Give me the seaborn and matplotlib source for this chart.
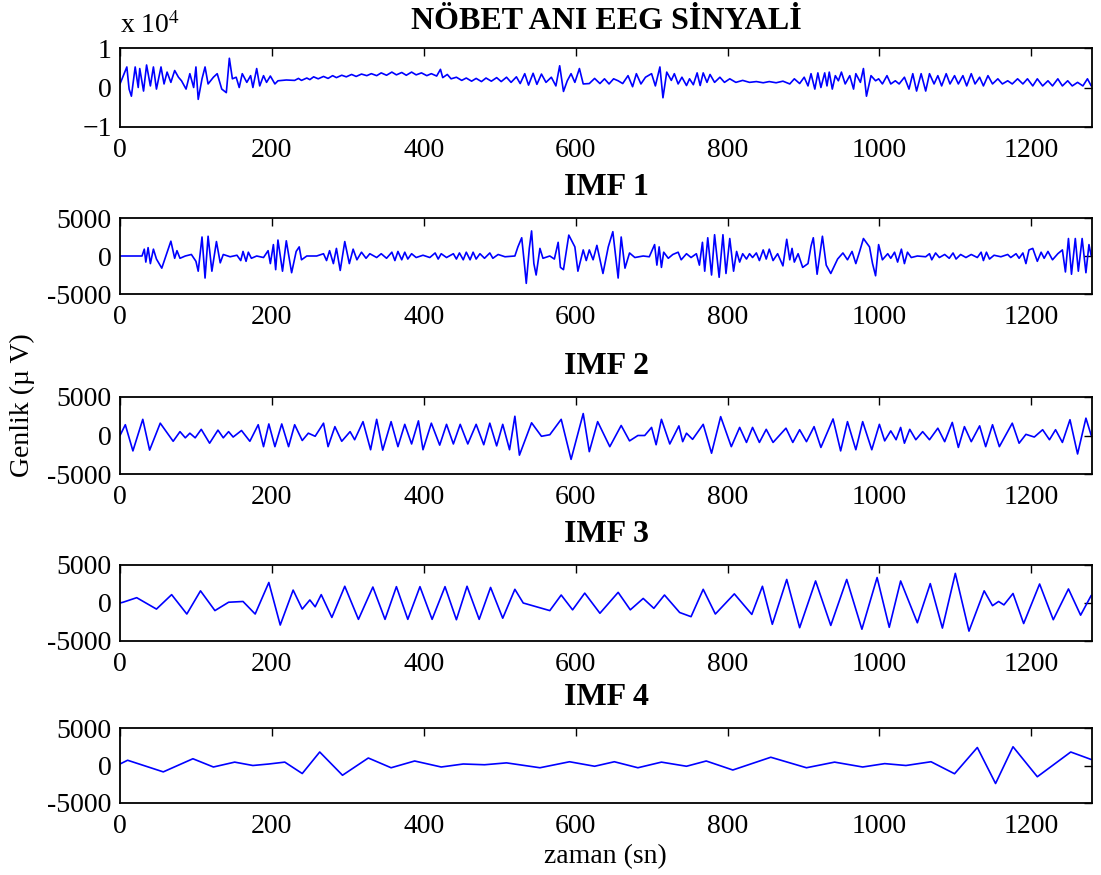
import matplotlib
matplotlib.use("Agg")
import matplotlib.pyplot as plt
import seaborn as sns
import pandas as pd

# ---------------- data ----------------
# raw EEG, values in thousands of µV
eeg_t = [0, 9, 12, 15, 20, 24, 26, 31, 35, 40, 44, 48, 54, 58, 62, 67, 72, 77, 81, 87,
         92, 97, 100, 103, 108, 112, 116, 123, 128, 134, 140, 144, 148, 153, 157, 161, 167, 172, 175, 180,
         184, 189, 193, 198, 204, 208, 219, 230, 235, 239, 246, 250, 255, 261, 268, 274, 280, 285, 292, 298,
         305, 311, 318, 325, 331, 338, 344, 351, 358, 364, 371, 377, 384, 390, 397, 404, 410, 417, 422, 425,
         431, 436, 443, 450, 456, 463, 469, 476, 482, 489, 496, 502, 509, 515, 522, 527, 533, 538, 544, 549,
         555, 561, 568, 574, 579, 584, 589, 594, 599, 605, 610, 618, 625, 632, 638, 644, 650, 656, 662, 669,
         675, 680, 686, 692, 700, 705, 711, 715, 720, 726, 730, 735, 740, 746, 750, 755, 760, 764, 768, 773,
         777, 783, 790, 796, 803, 811, 820, 829, 838, 847, 855, 864, 873, 882, 888, 895, 901, 906, 910, 915,
         919, 923, 928, 931, 934, 938, 942, 946, 950, 955, 961, 966, 969, 975, 979, 983, 989, 995, 999, 1004,
         1010, 1015, 1021, 1026, 1033, 1039, 1044, 1049, 1055, 1061, 1066, 1072, 1077, 1082, 1088, 1093, 1099, 1104, 1110, 1115,
         1121, 1126, 1132, 1137, 1143, 1149, 1156, 1162, 1169, 1175, 1182, 1189, 1195, 1202, 1208, 1215, 1222, 1228, 1235, 1241,
         1248, 1254, 1261, 1268, 1274, 1279]
eeg_k = [0.9, 5.2, -0.4, -2.2, 5.2, 0, 4.8, -0.9, 5.7, 0.4, 5.2, -0.4, 5.2, 0.9, 3.9, 1.3, 4.3, 2.6, 1.7, -0.4,
         3.5, 0, 5.2, -3.0, 2.2, 5.2, 0.9, 2.6, 3.5, -0.4, -1.3, 7.4, 2.2, 2.6, 0, 3.5, 1.3, 3.0, 0, 4.8,
         0.4, 3.0, 1.3, 2.9, 0.9, 1.7, 1.9, 1.8, 2.3, 1.8, 2.4, 2.0, 2.7, 2.2, 2.8, 2.3, 3.0, 2.5, 3.1, 2.7,
         3.3, 2.8, 3.4, 3.0, 3.5, 3.0, 3.7, 3.1, 3.9, 3.2, 3.8, 3.1, 3.9, 3.2, 3.7, 3.0, 3.5, 2.9, 4.6, 2.5,
         3.3, 2.2, 2.6, 1.8, 2.4, 1.6, 2.3, 1.5, 2.4, 1.6, 2.5, 1.5, 2.6, 1.3, 2.7, 1.0, 3.5, 0.6, 3.6, 0.8,
         3.4, 1.3, 2.6, 0.4, 5.5, -1.0, 1.7, 3.5, 1.3, 4.8, 0.9, 1.0, 2.3, 1.0, 2.2, 0.9, 2.2, 1.7, 1.0, 3.0,
         0.2, 3.5, 0.9, 2.6, 3.5, 0.4, 5.2, -2.6, 3.9, 1.8, 3.5, 0.9, 2.6, 0.5, 2.2, 0.7, 3.7, 0.5, 3.7, 1.3,
         3.3, 1.3, 2.6, 1.3, 2.2, 1.3, 1.8, 1.3, 1.5, 1.2, 1.5, 1.2, 1.6, 0.9, 2.2, 1.0, 2.6, 0.4, 3.5, -0.4,
         3.7, 0, 3.7, 0.4, 3.9, -0.4, 3.0, 1.7, 3.9, 0.9, 3.0, -0.4, 3.5, 1.3, 4.8, -2.2, 3.0, 1.7, 2.2, 0.9,
         3.0, 0.9, 1.7, 0.9, 2.6, -0.4, 3.5, -0.9, 3.5, -0.9, 3.5, 0.9, 3.0, 0.4, 3.5, 0.9, 3.0, 0.9, 3.0, 0.4,
         3.5, 0.9, 2.6, 0.4, 3.0, 0.9, 2.2, 0.9, 1.7, 0.9, 2.2, 0.9, 2.2, 0.4, 2.2, 0.4, 1.7, 0.4, 2.2, 0.4,
         1.7, 0.4, 1.3, 0.4, 2.2, 0.4]

# IMF 1, values in thousands of µV
imf1_t = [0, 26, 29, 32, 34, 37, 40, 44, 48, 55, 67, 72, 75, 79, 86, 94, 100, 103, 108, 112,
          116, 121, 127, 132, 136, 145, 154, 159, 162, 166, 169, 173, 180, 189, 195, 198, 202, 205, 208, 214,
          219, 226, 232, 236, 239, 246, 259, 268, 272, 276, 281, 285, 290, 296, 302, 307, 312, 318, 324, 329,
          338, 344, 351, 358, 362, 366, 371, 375, 379, 384, 390, 399, 408, 415, 419, 423, 430, 439, 443, 447,
          452, 456, 461, 465, 469, 474, 480, 487, 491, 498, 507, 520, 524, 529, 533, 535, 539, 542, 545, 548,
          553, 557, 566, 572, 577, 580, 584, 591, 599, 603, 610, 614, 618, 623, 628, 636, 643, 649, 656, 660,
          665, 671, 678, 689, 697, 704, 707, 710, 713, 716, 722, 728, 735, 739, 746, 752, 759, 763, 767, 770,
          774, 779, 783, 789, 794, 798, 803, 808, 812, 816, 820, 825, 829, 833, 838, 842, 847, 851, 855, 860,
          866, 873, 878, 882, 885, 888, 893, 899, 906, 910, 913, 918, 925, 930, 936, 945, 952, 958, 964, 969,
          974, 979, 987, 991, 995, 999, 1004, 1011, 1015, 1020, 1024, 1029, 1033, 1037, 1042, 1050, 1061, 1066, 1069, 1074,
          1079, 1086, 1092, 1097, 1101, 1107, 1114, 1121, 1129, 1134, 1137, 1141, 1145, 1151, 1160, 1169, 1173, 1180, 1184, 1189,
          1193, 1197, 1202, 1208, 1213, 1217, 1222, 1228, 1235, 1241, 1245, 1249, 1253, 1258, 1262, 1267, 1272, 1276, 1279]
imf1_k = [0, 0, 0, 0.9, -0.8, 1.1, -1.0, 0.9, -0.4, -1.6, 1.95, -0.3, 0.7, -0.3, 0, 0.2, -0.7, -2.0, 2.5, -2.9,
          2.6, -2.0, 1.9, -0.9, 0.2, -0.1, 0.1, -0.6, 0.6, -0.7, 0.5, -0.3, 0, -0.2, 0.7, -1.0, 1.5, -1.8, 2.1, -2.0,
          2.0, -2.2, 0.6, 1.2, -0.5, 0, 0, 0.3, -0.6, 0.7, -1.0, 1.0, -1.9, 1.9, -1.0, 0.9, -0.5, 0.5, -0.3, 0.3,
          -0.2, 0.3, -0.3, 0.5, -0.6, 0.6, -0.5, 0.5, -0.4, 0.3, -0.2, 0.1, -0.2, 0.4, -0.4, 0.3, -0.2, 0.3, -0.4, 0.4,
          -0.5, 0.5, -0.5, 0.5, -0.4, 0.3, -0.3, 0.4, -0.3, 0.2, -0.1, 0, 1.2, 2.4, -1.5, -3.6, 1.0, 3.3, -1.0, -2.5,
          1.0, -0.3, 0, -0.4, 1.8, -1.5, -1.8, 2.75, 1.2, -2.0, 0.8, -0.6, 0.8, -0.5, 1.4, -2.3, 1.2, 3.2, -2.9, 2.5,
          -1.6, 0.4, -0.2, 0, -0.1, 1.5, -1.2, 1.2, -1.5, 0.5, -0.3, 0.2, 0.5, -0.5, 0.3, -0.2, 0.3, -1.2, 1.8, -2.0,
          2.4, -2.5, 2.8, -2.8, 2.8, -2.3, 2.3, -2.0, 0.6, -0.8, 0.3, -0.4, 0.3, -0.2, 0.4, -0.6, 0.8, -0.4, 0.9, -0.6,
          0.3, -1.3, 2.2, -0.5, 1.0, -0.8, 0.3, -1.5, -1.0, 1.3, 2.4, -2.4, 2.6, -1.2, -2.3, -0.4, 0.4, -0.5, 0.6, -1.0,
          0.6, 2.3, 1.2, -1.0, -2.6, 1.5, -0.5, 0.3, -0.3, 0.5, -0.8, 0.9, -1.0, 0.5, -0.2, 0, -0.1, 0.3, -0.5, 0.4,
          -0.2, 0.2, -0.3, 0.4, -0.4, 0.2, -0.2, 0.2, -0.2, 0.5, -0.6, 0.5, -0.4, 0.1, -0.1, 0.2, -0.2, 0.3, -0.3, 0.4,
          -1.0, 0.8, 1.0, -0.7, 0.5, -0.3, 0.6, -0.5, 0.3, 0.8, -2.1, 2.3, -2.4, 2.3, -2.0, 2.3, -2.2, 1.5, 0]

# IMF 2, values in thousands of µV
imf2_t = [0, 7, 17, 30, 39, 53, 70, 79, 86, 92, 99, 107, 118, 129, 136, 143, 149, 160, 171, 182,
          189, 196, 204, 213, 222, 230, 240, 248, 257, 268, 274, 283, 292, 303, 309, 320, 330, 338, 346, 357,
          366, 375, 384, 393, 399, 410, 421, 430, 439, 448, 458, 469, 479, 487, 496, 504, 513, 520, 526, 542,
          555, 566, 581, 594, 610, 618, 629, 645, 660, 671, 682, 691, 700, 706, 713, 724, 736, 741, 746, 754,
          768, 779, 791, 805, 816, 825, 833, 842, 851, 860, 877, 886, 895, 904, 914, 923, 939, 949, 958, 969,
          978, 990, 1000, 1007, 1015, 1022, 1028, 1033, 1040, 1048, 1057, 1066, 1077, 1086, 1096, 1104, 1112, 1121, 1132, 1140,
          1149, 1158, 1175, 1184, 1193, 1204, 1215, 1224, 1232, 1241, 1251, 1261, 1272, 1279]
imf2_k = [0, 1.4, -2.0, 2.1, -1.9, 1.6, -0.75, 0.5, -0.3, 0.3, -0.3, 0.8, -1.0, 0.7, -0.3, 0.5, -0.2, 0.65, -0.75, 1.4,
          -1.45, 1.5, -1.45, 1.5, -1.45, 1.4, -0.65, 0.3, -0.1, 1.6, -1.45, 1.15, -0.75, 0.5, -0.55, 1.8, -1.85, 2.1, -1.9, 1.8,
          -1.45, 1.45, -1.1, 1.9, -1.85, 1.6, -1.25, 1.45, -1.1, 1.45, -1.1, 1.45, -1.2, 1.6, -1.35, 1.45, -1.85, 2.5, -2.55, 1.65,
          -0.1, 0.1, 2.1, -3.1, 2.85, -2.1, 1.8, -1.45, 1.3, -0.7, 0, 0, 1.05, -1.2, 2.1, -1.1, 1.25, -0.8, 0.3, -0.5,
          1.45, -2.3, 2.45, -1.45, 1.05, -0.9, 1.05, -0.9, 0.8, -0.9, 0.95, -0.9, 0.75, -0.8, 1.15, -1.55, 2.15, -2.0, 1.8, -1.85,
          1.8, -1.85, 1.45, -0.7, 0.6, -0.55, 1.05, -1.0, 0.8, -0.55, 0.5, -0.55, 0.95, -0.8, 1.7, -1.55, 1.15, -0.8, 1.25, -1.45,
          1.4, -1.45, 1.6, -1.0, 0.15, -0.2, 0.75, -0.55, 0.75, -0.9, 2.05, -2.4, 2.25, 0]

# IMF 3, values in thousands of µV
imf3_t = [0, 4, 22, 48, 68, 88, 106, 125, 143, 162, 178, 196, 211, 228, 240, 250, 257, 265, 279, 296,
          314, 333, 349, 364, 379, 395, 411, 428, 443, 457, 473, 488, 504, 520, 531, 566, 581, 596, 612, 632,
          656, 672, 689, 703, 717, 737, 752, 768, 784, 809, 832, 846, 859, 878, 895, 916, 936, 957, 977, 997,
          1013, 1028, 1050, 1067, 1083, 1100, 1118, 1138, 1149, 1157, 1164, 1176, 1190, 1211, 1229, 1249, 1265, 1279]
imf3_k = [0, 0.1, 0.7, -0.8, 1.1, -1.45, 1.6, -1.0, 0.1, 0.2, -1.45, 2.7, -2.9, 1.7, -0.8, 0.4, -0.5, 1.1, -1.9, 2.2,
          -2.15, 2.1, -2.15, 2.15, -2.15, 2.15, -2.15, 2.15, -2.2, 2.2, -2.15, 2.05, -2.0, 1.8, 0, -1.0, 1.05, -0.9, 1.3, -1.35,
          1.4, -0.9, 0.6, -0.7, 1.05, -1.25, -1.8, 1.8, -1.45, 1.2, -1.5, 2.2, -2.8, 3.1, -3.25, 2.9, -2.95, 3.1, -3.45, 3.35,
          -3.2, 2.9, -2.6, 2.55, -3.3, 3.9, -3.7, 1.6, -0.35, 0.2, -0.25, 1.25, -2.7, 2.5, -2.2, 1.85, -1.6, 1.0]

# IMF 4, values in thousands of µV
imf4_t = [0, 10, 57, 96, 123, 151, 175, 196, 217, 240, 263, 293, 327, 357, 388, 423, 452, 480, 509, 553,
          592, 625, 651, 682, 713, 746, 772, 807, 857, 904, 941, 978, 1007, 1035, 1068, 1099, 1129, 1153, 1176, 1208,
          1252, 1279]
imf4_k = [0.2, 0.7, -0.85, 0.9, -0.2, 0.45, 0, 0.2, 0.45, -1.07, 1.8, -1.3, 1.0, -0.3, 0.6, -0.2, 0.2, 0.1, 0.35, -0.3,
          0.5, -0.1, 0.5, -0.3, 0.45, -0.1, 0.6, -0.6, 1.1, -0.3, 0.45, -0.2, 0.25, 0, 0.5, -1.1, 2.4, -2.4, 2.5, -1.5,
          1.8, 0.8]

titles = ["NÖBET ANI EEG SİNYALİ", "IMF 1", "IMF 2", "IMF 3", "IMF 4"]
x_ticks = [0, 200, 400, 600, 800, 1000, 1200]
y_ticks_raw = [-1, 0, 1]
y_ticks_imf = [-5000, 0, 5000]
x_label = "zaman (sn)"
y_label = "Genlik (µ V)"

# ---------------- figure ----------------
sns.set_style("white")
plt.rcParams["font.family"] = ["Liberation Serif", "DejaVu Serif"]
plt.rcParams["mathtext.fontset"] = "stix"
plt.rcParams["text.color"] = "black"
plt.rcParams["axes.labelcolor"] = "black"
plt.rcParams["axes.titlecolor"] = "black"

W, H = 1101, 875
fig = plt.figure(figsize=(W / 100, H / 100), dpi=100)

# axes boxes in pixels: (top, bottom)
boxes = [(48, 127), (218, 294), (397, 474), (565, 641), (728, 803)]
left_px, right_px = 120, 1092

series = [
    (eeg_t, [v * 1000 / 1e4 for v in eeg_k]),
    (imf1_t, [v * 1000 for v in imf1_k]),
    (imf2_t, [v * 1000 for v in imf2_k]),
    (imf3_t, [v * 1000 for v in imf3_k]),
    (imf4_t, [v * 1000 for v in imf4_k]),
]

TICK_FS = 20
TITLE_FS = 23

for i, ((top, bot), (tt, vv)) in enumerate(zip(boxes, series)):
    ax = fig.add_axes([left_px / W, 1 - bot / H, (right_px - left_px) / W, (bot - top) / H])
    df = pd.DataFrame({"t": tt, "v": vv})
    sns.lineplot(data=df, x="t", y="v", ax=ax, color="#0000FF", linewidth=1.2,
                 estimator=None, sort=False)
    ax.set_xlim(0, 1280)
    if i == 0:
        ax.set_ylim(-1, 1)
        ax.set_yticks(y_ticks_raw)
        ax.set_yticklabels(["\u22121", "0", "1"])
    else:
        ax.set_ylim(-5000, 5000)
        ax.set_yticks(y_ticks_imf)
        ax.set_yticklabels(["-5000", "0", "5000"])
    ax.set_xticks(x_ticks)
    ax.set_xlabel("")
    ax.set_ylabel("")
    ax.tick_params(axis="both", direction="in", length=6, width=1.0,
                   top=True, right=True, labelsize=TICK_FS, colors="black")
    ax.tick_params(axis="x", pad=8)
    ax.tick_params(axis="y", pad=6)
    for s in ax.spines.values():
        s.set_visible(True)
        s.set_color("black")
        s.set_linewidth(1.3)
    ax.set_title(titles[i], fontsize=TITLE_FS, fontweight="bold", color="black",
                 pad=(14 if i == 0 else 16.5))

fig.text(120 / W, 1 - 33 / H, "x 10$^{4}$", fontsize=TICK_FS, ha="left", va="baseline")
fig.text(605 / W, 1 - 857 / H, x_label, fontsize=TICK_FS, ha="center", va="center")
fig.text(22 / W, 1 - 405 / H, y_label, fontsize=TICK_FS, ha="center", va="center", rotation=90)

fig.savefig("out.png", dpi=100, facecolor="white")
